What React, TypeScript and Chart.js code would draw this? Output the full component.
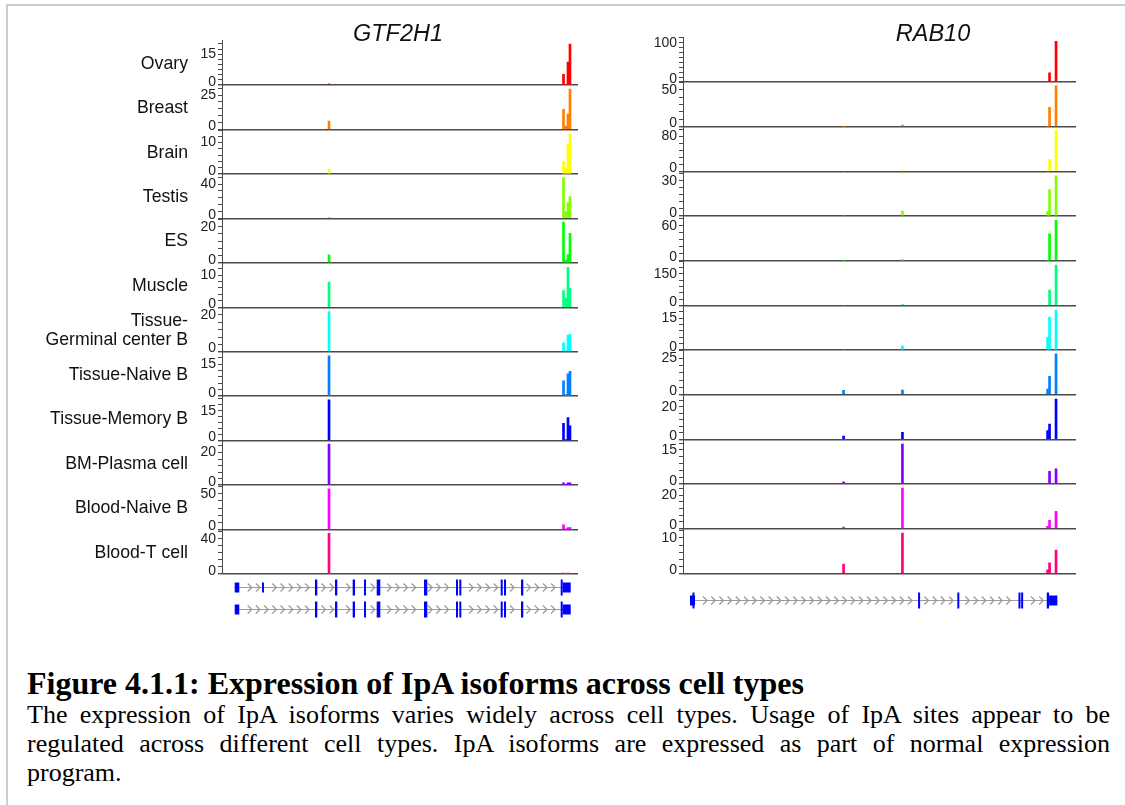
import React, { useEffect, useRef } from 'react';
import { Chart, registerables } from 'chart.js';

Chart.register(...registerables);

// ---- Tracks (one row per cell type) ----
const CELL_TYPES = [
  'Ovary',
  'Breast',
  'Brain',
  'Testis',
  'ES',
  'Muscle',
  'Tissue-\nGerminal center B',
  'Tissue-Naive B',
  'Tissue-Memory B',
  'BM-Plasma cell',
  'Blood-Naive B',
  'Blood-T cell',
];

const TRACK_COLORS = [
  '#ff0000', '#ff8000', '#ffff00', '#80ff00', '#00ff00', '#00ff80',
  '#00ffff', '#0080ff', '#0000ff', '#8000ff', '#ff00ff', '#ff0080',
];

// ---- GTF2H1: read coverage at polyA sites (relative gene coordinate, 0-1000) ----
const GTF2H1_SITES = [300.6, 959.3, 966.3, 971.9, 977.5];
const GTF2H1_COUNTS = [
  [0.5, 5.2, 0.3, 11.2, 19.9],
  [6, 14.6, 2.4, 11.2, 29.4],
  [1.5, 3.9, 1.8, 9.6, 12.8],
  [1.2, 47.4, 7.8, 18.3, 25.3],
  [4.4, 22.6, 1.5, 4.6, 16.3],
  [7.8, 5.2, 2.8, 12.4, 5.9],
  [21.8, 4.9, 0.5, 9.1, 9.4],
  [18.9, 7.2, 0.8, 10.5, 11.6],
  [20.6, 8.7, 0.5, 11.6, 7.4],
  [25.2, 1.4, 0.3, 1.4, 1.4],
  [57, 6.6, 1, 2.8, 2.8],
  [46, 1.1, 0.3, 1.1, 0.6],
];
const GTF2H1_LABELED_TICK = [15, 25, 10, 40, 20, 10, 20, 15, 15, 20, 50, 40];
const GTF2H1_AXIS_MAX = [21.7, 32.4, 14.2, 51.8, 24.7, 13.8, 24.2, 20.8, 22.4, 27.3, 62.3, 50.4];
const GTF2H1_TICK_STEP = [2.5, 5, 2, 8, 4, 2, 4, 3, 3, 4, 10, 8];

// ---- RAB10 ----
const RAB10_SITES = [408.6, 558.4, 927.7, 932.7, 949.2];
const RAB10_COUNTS = [
  [0, 0.5, 0, 23, 103.6],
  [0, 2, 0, 26.3, 55.4],
  [0, 0.3, 0, 27.4, 93.7],
  [0, 4.2, 4, 22.4, 34.2],
  [0, 0.5, 0, 45.8, 69],
  [0, 1, 0, 73.4, 193],
  [0, 2, 6, 15.5, 18.9],
  [3, 3.2, 3.9, 12.6, 28],
  [2, 4.3, 5.3, 9.4, 24.7],
  [0.9, 17.6, 0, 5.6, 6.7],
  [1, 24.4, 1.4, 5, 10.4],
  [2.6, 11.4, 1, 3, 6.6],
];
const RAB10_LABELED_TICK = [100, 50, 80, 30, 60, 150, 15, 25, 20, 15, 20, 10];
const RAB10_AXIS_MAX = [113.6, 60.8, 102, 38, 76.6, 214, 21.1, 30.7, 27.4, 19.7, 26.8, 12.65];
const RAB10_TICK_STEP = [12.5, 10, 16, 6, 12, 30, 3, 5, 4, 3, 4, 2];

// ---- Gene models: [start, end, kind] in the same relative coordinate ----
type Exon = [number, number, 'cds' | 'utr'];

const GTF2H1_TRANSCRIPT_A: Exon[] = [
  [35.7, 48.6, 'utr'], [112.4, 118.0, 'utr'], [261.2, 267.7, 'cds'], [317.4, 323.9, 'cds'],
  [367.1, 373.6, 'cds'], [398.9, 403.7, 'cds'], [434.6, 444.7, 'cds'], [567.4, 576.7, 'cds'],
  [657.3, 662.1, 'cds'], [666.6, 671.3, 'cds'], [782.9, 787.4, 'cds'], [792.1, 797.8, 'cds'],
  [839.9, 846.3, 'cds'], [951.4, 957.0, 'cds'], [957.0, 979.5, 'utr'],
];
const GTF2H1_TRANSCRIPT_B: Exon[] = [
  [35.7, 48.6, 'utr'], [261.2, 267.7, 'cds'], [317.4, 323.9, 'cds'],
  [367.1, 373.6, 'cds'], [398.9, 403.7, 'cds'], [434.6, 444.7, 'cds'], [567.4, 576.7, 'cds'],
  [657.3, 662.1, 'cds'], [666.6, 671.3, 'cds'], [782.9, 787.4, 'cds'], [792.1, 797.8, 'cds'],
  [839.9, 846.3, 'cds'], [951.4, 957.0, 'cds'], [957.0, 979.5, 'utr'],
];
const RAB10_TRANSCRIPT: Exon[] = [
  [17.8, 30.5, 'utr'], [24.1, 29.2, 'cds'], [598.2, 603.3, 'cds'], [698.0, 703.0, 'cds'],
  [853.6, 857.9, 'cds'], [860.4, 865.5, 'cds'], [925.6, 931.5, 'cds'], [931.5, 952.5, 'utr'],
];

const CAPTION_TITLE = 'Figure 4.1.1: Expression of IpA isoforms across cell types';
const CAPTION_LINES = [
  'The expression of IpA isoforms varies widely across cell types. Usage of IpA sites appear to be',
  'regulated across different cell types. IpA isoforms are expressed as part of normal expression',
  'program.',
];

const SANS = '"Liberation Sans", Arial, Helvetica, sans-serif';
const SERIF = '"Liberation Serif", "Times New Roman", Times, serif';
const AXIS_COLOR = '#4a4a4a';
const EXON_COLOR = '#0000ff';
const INTRON_COLOR = '#9c9c9c';

interface PanelSpec {
  gene: string;
  titleX: number;
  sites: number[];
  counts: number[][];
  labeledTick: number[];
  axisMax: number[];
  tickStep: number[];
  transcripts: Exon[][];
  transcriptOffsets: number[];
  rowLabels: string[] | null;
  padding: { left: number; right: number; top: number; bottom: number };
}

function titlePlugin(text: string, x: number) {
  return {
    id: 'panelTitle',
    afterDraw(chart: any) {
      const { ctx } = chart;
      ctx.save();
      ctx.font = `italic 23.5px ${SANS}`;
      ctx.fillStyle = '#111';
      ctx.textAlign = 'center';
      ctx.textBaseline = 'alphabetic';
      ctx.fillText(text, x, 41);
      ctx.restore();
    },
  };
}

function rowLabelPlugin(labels: string[] | null) {
  return {
    id: 'rowLabels',
    afterDraw(chart: any) {
      if (!labels) return;
      const { ctx, chartArea } = chart;
      ctx.save();
      ctx.font = `17.7px ${SANS}`;
      ctx.fillStyle = '#111';
      ctx.textAlign = 'right';
      ctx.textBaseline = 'middle';
      labels.forEach((label, i) => {
        const scale = chart.scales['y' + i];
        const mid = (scale.top + scale.bottom) / 2 + 1;
        const lines = label.split('\n');
        lines.forEach((ln, j) => {
          ctx.fillText(ln, chartArea.left - 34, mid + (j - (lines.length - 1) / 2) * 19);
        });
      });
      ctx.restore();
    },
  };
}

function geneModelPlugin(transcripts: Exon[][], offsets: number[]) {
  return {
    id: 'geneModel',
    afterDraw(chart: any) {
      const { ctx, chartArea } = chart;
      const xs = chart.scales.x;
      const px = (v: number) => xs.getPixelForValue(v);
      ctx.save();
      transcripts.forEach((exons, r) => {
        const y = Math.round(chartArea.bottom + offsets[r]) + 0.5;
        const x0 = px(Math.min(...exons.map((e) => e[0])));
        const x1 = px(Math.max(...exons.map((e) => e[1])));
        ctx.strokeStyle = INTRON_COLOR;
        ctx.lineWidth = 1.2;
        ctx.beginPath();
        ctx.moveTo(x0, y);
        ctx.lineTo(x1, y);
        ctx.stroke();
        ctx.lineWidth = 1.3;
        for (let cx = x0 + 7; cx < x1 - 4; cx += 8.2) {
          const hit = exons.some((e) => cx + 3 >= px(e[0]) && cx - 3 <= px(e[1]));
          if (hit) continue;
          ctx.beginPath();
          ctx.moveTo(cx - 2.2, y - 4);
          ctx.lineTo(cx + 1.8, y);
          ctx.lineTo(cx - 2.2, y + 4);
          ctx.stroke();
        }
        ctx.fillStyle = EXON_COLOR;
        exons.forEach(([s, e, kind]) => {
          const h = kind === 'cds' ? 16 : 10;
          const a = px(s);
          const w = Math.max(2, px(e) - a);
          ctx.fillRect(a, y - h / 2, w, h);
        });
      });
      ctx.restore();
    },
  };
}

function buildConfig(spec: PanelSpec): any {
  const scales: any = {
    x: { type: 'linear', display: false, min: 0, max: 1000, offset: false },
  };
  const n = spec.counts.length;
  spec.counts.forEach((_, i) => {
    scales['y' + i] = {
      type: 'linear',
      position: 'left',
      stack: 'tracks',
      stackWeight: 1,
      weight: n - i,
      min: 0,
      max: spec.axisMax[i],
      offset: false,
      afterFit: (s: any) => {
        s.width = 30;
      },
      border: { display: true, color: AXIS_COLOR, width: 1 },
      grid: {
        drawOnChartArea: true,
        drawTicks: true,
        tickLength: 4,
        tickColor: AXIS_COLOR,
        lineWidth: (c: any) => (c.tick && c.tick.value === 0 ? 1.4 : 1),
        color: (c: any) => (c.tick && c.tick.value === 0 ? AXIS_COLOR : 'rgba(0,0,0,0)'),
      },
      ticks: {
        stepSize: spec.tickStep[i],
        includeBounds: false,
        autoSkip: false,
        padding: 2,
        color: '#222',
        // the zero label sits just above its baseline: a blank second line lifts it
        font: { family: SANS, size: 14, lineHeight: 0.45 },
        callback: (v: number) =>
          v === 0 ? ['0', ''] : v === spec.labeledTick[i] ? String(v) : '',
      },
    };
  });

  const datasets = spec.counts.map((row, i) => ({
    type: 'bar',
    label: CELL_TYPES[i],
    data: spec.sites.map((x, j) => ({ x, y: row[j] })),
    yAxisID: 'y' + i,
    xAxisID: 'x',
    backgroundColor: TRACK_COLORS[i],
    borderWidth: 0,
    barThickness: 2,
    grouped: false,
  }));

  return {
    type: 'bar',
    data: { datasets },
    options: {
      responsive: false,
      animation: false,
      events: [],
      layout: { padding: spec.padding },
      scales,
      plugins: {
        legend: { display: false },
        tooltip: { enabled: false },
        title: { display: false },
      },
    },
    plugins: [
      titlePlugin(spec.gene, spec.titleX),
      rowLabelPlugin(spec.rowLabels),
      geneModelPlugin(spec.transcripts, spec.transcriptOffsets),
    ],
  };
}

const LEFT_PANEL: PanelSpec = {
  gene: 'GTF2H1',
  titleX: 398,
  sites: GTF2H1_SITES,
  counts: GTF2H1_COUNTS,
  labeledTick: GTF2H1_LABELED_TICK,
  axisMax: GTF2H1_AXIS_MAX,
  tickStep: GTF2H1_TICK_STEP,
  transcripts: [GTF2H1_TRANSCRIPT_A, GTF2H1_TRANSCRIPT_B],
  transcriptOffsets: [13, 35],
  rowLabels: CELL_TYPES,
  padding: { left: 192, right: 22, top: 40.5, bottom: 66 },
};

const RIGHT_PANEL: PanelSpec = {
  gene: 'RAB10',
  titleX: 333,
  sites: RAB10_SITES,
  counts: RAB10_COUNTS,
  labeledTick: RAB10_LABELED_TICK,
  axisMax: RAB10_AXIS_MAX,
  tickStep: RAB10_TICK_STEP,
  transcripts: [RAB10_TRANSCRIPT],
  transcriptOffsets: [27],
  rowLabels: null,
  padding: { left: 53, right: 49, top: 37.3, bottom: 66.7 },
};

export default function App() {
  const leftRef = useRef<HTMLCanvasElement>(null);
  const rightRef = useRef<HTMLCanvasElement>(null);

  useEffect(() => {
    const left = new Chart(leftRef.current as HTMLCanvasElement, buildConfig(LEFT_PANEL));
    const right = new Chart(rightRef.current as HTMLCanvasElement, buildConfig(RIGHT_PANEL));
    return () => {
      left.destroy();
      right.destroy();
    };
  }, []);

  return (
    <div
      style={{
        position: 'absolute',
        left: 0,
        top: 0,
        width: 1125,
        height: 805,
        background: '#fff',
        overflow: 'hidden',
      }}
    >
      <div
        style={{
          position: 'absolute',
          left: 6,
          top: 4,
          width: 1119,
          height: 801,
          borderTop: '2px solid #cdcdcd',
          borderLeft: '2px solid #cdcdcd',
          boxSizing: 'border-box',
        }}
      />
      <canvas
        ref={leftRef}
        width={600}
        height={640}
        style={{ position: 'absolute', left: 0, top: 0, width: 600, height: 640 }}
      />
      <canvas
        ref={rightRef}
        width={525}
        height={640}
        style={{ position: 'absolute', left: 600, top: 0, width: 525, height: 640 }}
      />
      <div
        style={{
          position: 'absolute',
          left: 27,
          top: 665,
          font: `bold 32px ${SERIF}`,
          lineHeight: '36px',
          whiteSpace: 'nowrap',
          color: '#000',
        }}
      >
        {CAPTION_TITLE}
      </div>
      {CAPTION_LINES.map((line, i) => (
        <div
          key={i}
          style={{
            position: 'absolute',
            left: 27,
            top: 700 + 29 * i,
            width: 1083,
            font: `26px ${SERIF}`,
            lineHeight: '29px',
            color: '#000',
            textAlign: 'justify',
            textAlignLast: i < CAPTION_LINES.length - 1 ? 'justify' : 'left',
          }}
        >
          {line}
        </div>
      ))}
    </div>
  );
}
